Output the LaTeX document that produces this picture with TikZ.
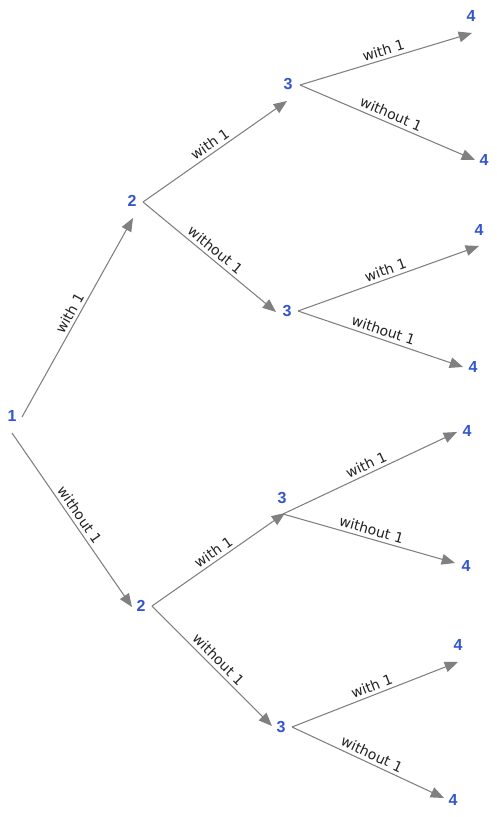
\documentclass[tikz,border=0pt]{standalone}
\usepackage{fontspec}
\setmainfont{DejaVu Sans}
\newfontfamily\numfont{Liberation Sans}
\usetikzlibrary{arrows.meta}
\definecolor{numblue}{RGB}{51,85,204}
\definecolor{linegray}{RGB}{128,128,128}
\definecolor{txtgray}{RGB}{34,34,34}

\begin{document}
\begin{tikzpicture}[x=0.75pt,y=-0.75pt,
  num/.style={text=numblue,font=\numfont\bfseries\fontsize{12}{14}\selectfont,inner sep=0pt},
  edge/.style={draw=linegray,line width=0.8pt,-{Triangle[length=10pt,width=8pt]}},
  lbl/.style={sloped,above,midway,text=txtgray,font=\fontsize{10.5}{12}\selectfont,inner sep=2.5pt}]
\useasboundingbox (0,0) rectangle (496,817);

\node[num] (A) at (12,416) {1};
\node[num] (B) at (132,201) {2};
\node[num] (C) at (141,606) {2};
\node[num] (D) at (288,84) {3};
\node[num] (E) at (287,311) {3};
\node[num] (F) at (282,498) {3};
\node[num] (G) at (281,727) {3};
\node[num] (H1) at (471,16) {4};
\node[num] (H2) at (484,160) {4};
\node[num] (I1) at (479,230) {4};
\node[num] (I2) at (473,367) {4};
\node[num] (J1) at (467,431) {4};
\node[num] (J2) at (466,566) {4};
\node[num] (K1) at (458,645) {4};
\node[num] (K2) at (453,800) {4};

\coordinate (Aa) at (22,417);
\coordinate (Ab) at (12,433);
\coordinate (Bi) at (133,218);
\coordinate (Bo) at (143,202);
\coordinate (Ci) at (132,607);
\coordinate (Co) at (152,606);
\coordinate (Di) at (287,101);
\coordinate (Do) at (300,85);
\coordinate (Ei) at (276,312);
\coordinate (Eo) at (298,311);
\coordinate (Fi) at (285,513);
\coordinate (Fo) at (283,514);
\coordinate (Gi) at (272,726);
\coordinate (Go) at (292,727);
\coordinate (H1i) at (472,33);
\coordinate (H2i) at (475,160);
\coordinate (I1i) at (479,246);
\coordinate (I2i) at (463,367);
\coordinate (J1i) at (457,432);
\coordinate (J2i) at (455,563);
\coordinate (K1i) at (458,662);
\coordinate (K2i) at (444,798);

\begin{scope}[every path/.style={edge}]
    \draw (Aa) -- node[lbl] {with 1} (Bi);
    \draw (Ab) -- node[lbl] {without 1} (Ci);
    \draw (Bo) -- node[lbl] {with 1} (Di);
    \draw (Bo) -- node[lbl] {without 1} (Ei);
    \draw (Co) -- node[lbl] {with 1} (Fi);
    \draw (Co) -- node[lbl] {without 1} (Gi);
    \draw (Do) -- node[lbl] {with 1} (H1i);
    \draw (Do) -- node[lbl] {without 1} (H2i);
    \draw (Eo) -- node[lbl] {with 1} (I1i);
    \draw (Eo) -- node[lbl] {without 1} (I2i);
    \draw (Fo) -- node[lbl] {with 1} (J1i);
    \draw (Fo) -- node[lbl] {without 1} (J2i);
    \draw (Go) -- node[lbl] {with 1} (K1i);
    \draw (Go) -- node[lbl] {without 1} (K2i);
\end{scope}
\end{tikzpicture}
\end{document}
